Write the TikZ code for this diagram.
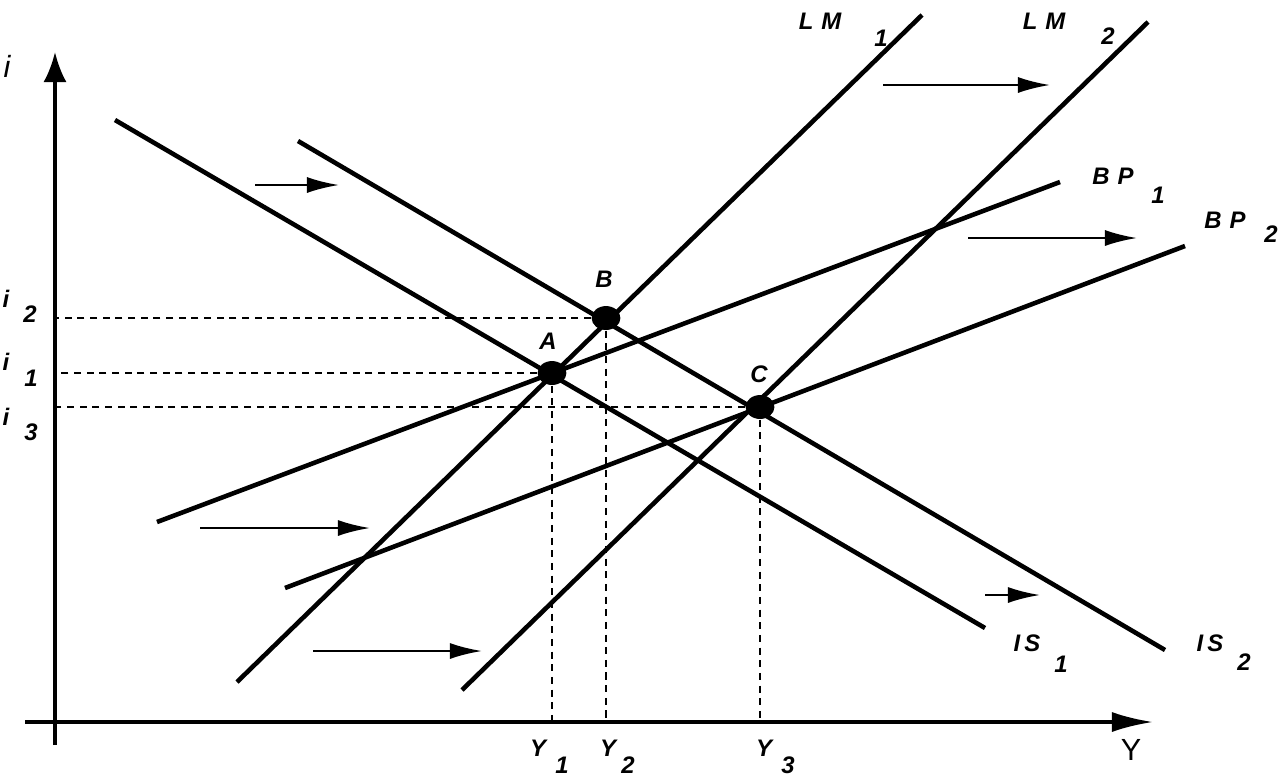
\documentclass[tikz,border=0pt]{standalone}
\usepackage{fontspec}
\setmainfont{Liberation Sans}
\usetikzlibrary{arrows.meta, shapes.geometric}
\tikzset{
	curve/.style={line width=1.3pt},
	axis/.style={line width=1pt, -{Latex[length=4.1mm, width=2mm]}},
	shiftarrow/.style={line width=0.7pt, -{Latex[length=3.2mm, width=1.6mm]}},
	guide/.style={line width=0.6pt, dash pattern=on 2pt off 1.6pt},
	eqdot/.style={ellipse, fill=black, inner sep=0pt, minimum width=8.2pt, minimum height=6.8pt},
	lbl/.style={font=\fontsize{6.8}{8}\selectfont\bfseries\itshape, inner sep=0pt},
	axlbl/.style={font=\fontsize{8.7}{10}\selectfont, inner sep=0pt},
}
\begin{document}
\begin{tikzpicture}[x=0.01cm, y=-0.01cm]
	\useasboundingbox (0,0) rectangle (1279,778);
	% axes
	\coordinate (o) at (55,722);
	\coordinate (ytop) at (55,52);
	\coordinate (ybot) at (55,745);
	\coordinate (xleft) at (25,722);
	\coordinate (xright) at (1153,722);
	\draw[axis, -{Latex[length=3mm, width=2.3mm]}] (ybot) -- (ytop);
	\draw[axis] (xleft) -- (xright);
	\node[axlbl, font=\fontsize{8.7}{10}\selectfont\itshape] (iaxis) at (7,66) {i};
	\node[axlbl] (yaxis) at (1131,750) {Y};
	% curve end points
	\coordinate (is1a) at (115,120);  \coordinate (is1b) at (985,628);
	\coordinate (is2a) at (298,141);  \coordinate (is2b) at (1165,650);
	\coordinate (lm1a) at (237,682);  \coordinate (lm1b) at (922,15);
	\coordinate (lm2a) at (462,690);  \coordinate (lm2b) at (1148,22);
	\coordinate (bp1a) at (157,522);  \coordinate (bp1b) at (1060,182);
	\coordinate (bp2a) at (285,588);  \coordinate (bp2b) at (1185,246);
	% equilibria
	\node[eqdot] (A) at (552,373) {};
	\node[eqdot] (B) at (606,318) {};
	\node[eqdot] (C) at (760,407) {};
	% dashed guides
	\draw[guide] (A) -- (A -| o);
	\draw[guide] (B) -- (B -| o);
	\draw[guide] (C) -- (C -| o);
	\draw[guide] (A) -- (A |- o);
	\draw[guide] (B) -- (B |- o);
	\draw[guide] (C) -- (C |- o);
	% curves
	\draw[curve] (is1a) -- (is1b);
	\draw[curve] (is2a) -- (is2b);
	\draw[curve] (lm1a) -- (lm1b);
	\draw[curve] (lm2a) -- (lm2b);
	\draw[curve] (bp1a) -- (bp1b);
	\draw[curve] (bp2a) -- (bp2b);
	% shift arrows
	\coordinate (s1a) at (255,185);  \coordinate (s1b) at (339,185);
	\coordinate (s2a) at (883,85);   \coordinate (s2b) at (1050,85);
	\coordinate (s3a) at (968,238);  \coordinate (s3b) at (1137,238);
	\coordinate (s4a) at (200,528);  \coordinate (s4b) at (370,528);
	\coordinate (s5a) at (313,651);  \coordinate (s5b) at (482,651);
	\coordinate (s6a) at (985,595);  \coordinate (s6b) at (1040,595);
	\foreach \n in {1,...,6} {
		\draw[shiftarrow] (s\n a) -- (s\n b);
	}
	% labels
	\node[lbl] (lA) at (548,341) {A};
	\node[lbl] (lB) at (604,279) {B};
	\node[lbl] (lC) at (759,374) {C};
	\node[lbl] (lm1) at (820,21) {L\,\,M};    \node[lbl] (lm1s) at (881,38) {1};
	\node[lbl] (lm2) at (1044,21) {L\,\,M};   \node[lbl] (lm2s) at (1108,36) {2};
	\node[lbl] (bp1) at (1113,176) {B\,\,P};  \node[lbl] (bp1s) at (1158,195) {1};
	\node[lbl] (bp2) at (1225,220) {B\,\,P};  \node[lbl] (bp2s) at (1271,234) {2};
	\node[lbl] (is1) at (1027,643) {I\,S};    \node[lbl] (is1s) at (1061,664) {1};
	\node[lbl] (is2) at (1210,643) {I\,S};    \node[lbl] (is2s) at (1244,662) {2};
	\node[lbl] (y1) at (538,748) {Y};         \node[lbl] (y1s) at (562,765) {1};
	\node[lbl] (y2) at (608,748) {Y};         \node[lbl] (y2s) at (628,765) {2};
	\node[lbl] (y3) at (764,748) {Y};         \node[lbl] (y3s) at (788,765) {3};
	\node[lbl] (i2) at (6,299) {i};           \node[lbl] (i2s) at (30,314) {2};
	\node[lbl] (i1) at (6,362) {i};           \node[lbl] (i1s) at (31,378) {1};
	\node[lbl] (i3) at (6,417) {i};           \node[lbl] (i3s) at (31,432) {3};
\end{tikzpicture}
\end{document}
